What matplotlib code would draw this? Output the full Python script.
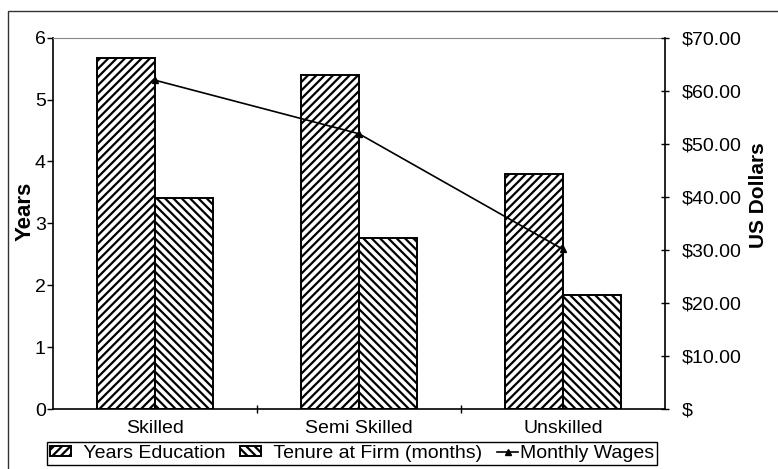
import matplotlib
matplotlib.use("Agg")
import matplotlib.pyplot as plt
import matplotlib.patches as mpatches
import numpy as np

plt.rcParams['font.family'] = ['Liberation Sans', 'DejaVu Sans']
plt.rcParams['hatch.linewidth'] = 1.6

categories = ["Skilled", "Semi Skilled", "Unskilled"]
years_education = [5.68, 5.39, 3.79]
tenure_months = [3.41, 2.76, 1.85]
monthly_wages = [62.0, 51.9, 30.1]

left_ticks = [0, 1, 2, 3, 4, 5, 6]
right_ticks = [0, 10, 20, 30, 40, 50, 60, 70]
right_labels = ["$"] + ["${:.2f}".format(v) for v in right_ticks[1:]]

W, H = 778, 469
fig = plt.figure(figsize=(W / 100, H / 100), dpi=100)
ax = fig.add_axes([52.7 / W, 1 - 409 / H, (665 - 52.7) / W, (409 - 37.7) / H])

x = np.arange(len(categories))
w = 0.284
b1 = ax.bar(x - w / 2, years_education, w, facecolor="white", edgecolor="black",
            hatch="////", linewidth=1.4, label="  Years Education")
b2 = ax.bar(x + w / 2, tenure_months, w, facecolor="white", edgecolor="black",
            hatch="\\\\\\\\", linewidth=1.4, label="  Tenure at Firm (months)")

ax.set_xlim(-0.5, 2.5)
ax.set_ylim(0, 6)
ax.set_yticks(left_ticks)
ax.tick_params(axis="y", direction="out", length=4, width=1, pad=1, labelsize=14)
ax.set_xticks([0.5, 1.5])
ax.set_xticks(x, minor=True)
ax.set_xticklabels([])
ax.set_xticklabels(categories, minor=True)
ax.tick_params(axis="x", which="major", direction="inout", length=6, width=1)
ax.tick_params(axis="x", which="minor", length=0, pad=8, labelsize=14)

for s in ["left", "bottom"]:
    ax.spines[s].set_linewidth(1.2)
ax.spines["top"].set_color("#888888")
ax.spines["right"].set_visible(False)

ax2 = ax.twinx()
ln, = ax2.plot(x, monthly_wages, color="black", linewidth=1.2, marker="^",
               markersize=4, label="Monthly Wages")
ax2.set_ylim(0, 70)
ax2.set_yticks(right_ticks)
ax2.set_yticklabels(right_labels)
ax2.tick_params(axis="y", direction="inout", length=6, width=1, pad=9, labelsize=14)
ax2.spines["right"].set_linewidth(1.2)
ax2.spines["top"].set_visible(False)
ax2.spines["left"].set_visible(False)
ax2.spines["bottom"].set_visible(False)

# axis titles placed where the reference has them
fig.text(25 / W, 1 - 211 / H, "Years", rotation=90, fontsize=16,
         fontweight="bold", ha="center", va="center")
fig.text(759 / W, 1 - 195 / H, "US Dollars", rotation=90, fontsize=15,
         fontweight="bold", ha="center", va="center")

leg = fig.legend(handles=[b1, b2, ln], loc="center",
                 bbox_to_anchor=(352 / W, 1 - 453.5 / H), ncol=3, fontsize=14,
                 frameon=True, fancybox=False, edgecolor="black", framealpha=1,
                 handlelength=1.1, handleheight=0.4, handletextpad=0.1,
                 columnspacing=0.75, borderpad=0.15, borderaxespad=0)
leg.get_frame().set_linewidth(1)

fig.patches.append(mpatches.Rectangle((8 / W, -0.1), 1.0, 1 - 11 / H + 0.1,
                                      transform=fig.transFigure, fill=False,
                                      edgecolor="#333333", linewidth=1))

fig.savefig("out.png", dpi=100)
